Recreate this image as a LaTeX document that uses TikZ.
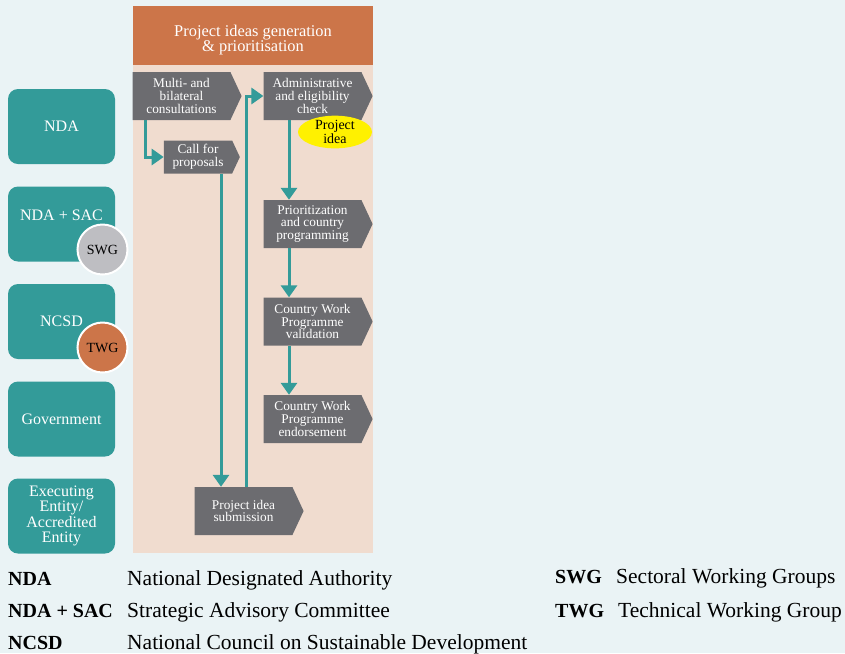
\documentclass[tikz,border=0pt]{standalone}
\usepackage{fontspec}
\setmainfont{Liberation Serif}
\usetikzlibrary{shapes.symbols,shapes.geometric,arrows.meta,calc}

\definecolor{bgblue}{RGB}{234,243,245}
\definecolor{peach}{RGB}{240,220,207}
\definecolor{rust}{RGB}{204,117,73}
\definecolor{flowteal}{RGB}{51,155,153}
\definecolor{stepgray}{RGB}{108,108,112}
\definecolor{swggray}{RGB}{190,190,194}
\definecolor{ideayellow}{RGB}{255,241,0}

\begin{document}
\begin{tikzpicture}[x=1pt,y=-1pt,
    actor/.style={fill=flowteal,rounded corners=10pt,minimum width=107pt,minimum height=75pt,align=center,text=white,inner sep=2pt,font=\fontsize{16}{15.3}\selectfont},
    task/.style={signal,signal to=east,signal pointer angle=130,fill=stepgray,text=white,align=center,inner sep=1pt,minimum width=109pt,minimum height=48pt,font=\fontsize{13.3}{12.6}\selectfont},
    badge/.style={circle,draw=white,line width=2pt,minimum size=50pt,inner sep=0pt,font=\fontsize{14}{14}\selectfont},
    flow/.style={draw=flowteal,line width=3pt,-{Triangle[width=16pt,length=12pt]}},
    abbr/.style={anchor=base west,inner sep=0pt,font=\fontsize{20}{20}\selectfont\bfseries},
    expl/.style={anchor=base west,inner sep=0pt,font=\fontsize{21.5}{20}\selectfont}
  ]
    % Background and process panel
    \fill[bgblue] (0,0) rectangle (845,653);
    \fill[peach] (133,65) rectangle (373,553);
    \node[fill=rust,minimum width=240pt,minimum height=59pt,align=center,text=white,text height=35pt,font=\fontsize{16.4}{15}\selectfont] (head) at (253,35.5) {Project ideas generation\\\& prioritisation};

    % Actors
    \node[actor] (nda) at (61.5,126.5) {NDA};
    \node[actor] (sac) at (61.5,224) {\raisebox{17pt}{NDA + SAC}};
    \node[actor] (ncsd) at (61.5,321.5) {NCSD};
    \node[actor] (gov) at (61.5,419) {Government};
    \node[actor] (exe) at (61.5,516) {Executing\\Entity/\\Accredited\\Entity};
    \node[badge,fill=swggray] (swg) at (102.5,249.5) {SWG};
    \node[badge,fill=rust] (twg) at (102.5,347.5) {TWG};

    % Process steps
    \node[task] (multi) at (181.5,96) {Multi- and\\bilateral\\consultations};
    \node[task,minimum width=76pt,minimum height=33pt] (call) at (198,157) {Call for\\proposals};
    \node[task] (admin) at (312.5,96) {Administrative\\and eligibility\\check};
    \node[task] (prio) at (312.5,224) {Prioritization\\and country\\programming};
    \node[task] (valid) at (312.5,321.5) {Country Work\\Programme\\validation};
    \node[task] (endo) at (312.5,419) {Country Work\\Programme\\endorsement};
    \node[task] (sub) at (243.5,511) {Project idea\\submission};
    \node[ellipse,fill=ideayellow,minimum width=74pt,minimum height=30pt,inner sep=0pt,align=center,font=\fontsize{14}{12.5}\selectfont] (idea) at (335,132) {Project\\idea};

    % Flow
    \draw[flow] ([xshift=-36.5pt]multi.south) |- (call.west);
    \draw[flow] ([xshift=23pt]call.south) -- ([xshift=23pt]call.south |- sub.north);
    \draw[flow] ([xshift=2.5pt]sub.north) |- (admin.west);
    \draw[flow] ([xshift=-23.5pt]admin.south) -- ([xshift=-23.5pt]prio.north);
    \draw[flow] ([xshift=-23.5pt]prio.south) -- ([xshift=-23.5pt]valid.north);
    \draw[flow] ([xshift=-23.5pt]valid.south) -- ([xshift=-23.5pt]endo.north);

    % Legend
    \node[abbr] (lnda) at (8,585) {NDA};
    \node[expl] (tnda) at (127,585) {National Designated Authority};
    \node[abbr] (lsac) at (8,617) {NDA + SAC};
    \node[expl] (tsac) at (127,617) {Strategic Advisory Committee};
    \node[abbr] (lncsd) at (8,649) {NCSD};
    \node[expl] (tncsd) at (127,649) {National Council on Sustainable Development};
    \node[abbr] (lswg) at (555,583) {SWG};
    \node[expl] (tswg) at (616,583) {Sectoral Working Groups};
    \node[abbr] (ltwg) at (555,617) {TWG};
    \node[expl] (ttwg) at (618,617) {Technical Working Group};
  \end{tikzpicture}
\end{document}
